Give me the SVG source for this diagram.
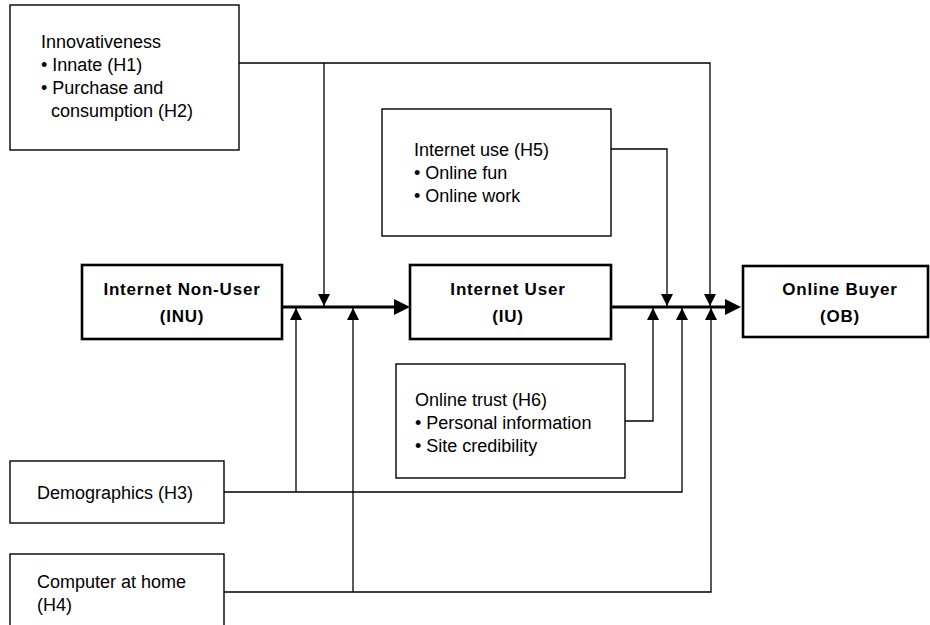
<svg xmlns="http://www.w3.org/2000/svg" width="930" height="625" viewBox="0 0 930 625">
<style>
  .thin { fill: #fff; stroke: #000; stroke-width: 1.4; }
  .thick { fill: #fff; stroke: #000; stroke-width: 2.6; }
  .txt { font-family: "Liberation Sans", Arial, sans-serif; font-size: 18px; fill: #000; }
  .bold { font-family: "Liberation Sans", Arial, sans-serif; font-size: 17px; font-weight: bold; letter-spacing: 0.8px; fill: #000; text-anchor: middle; }
  .conn { fill: none; stroke: #000; stroke-width: 1.3; }
  .main { fill: none; stroke: #000; stroke-width: 3; }
</style>
<defs>
  <marker id="small" markerUnits="userSpaceOnUse" markerWidth="13" markerHeight="13" refX="12" refY="6" orient="auto">
    <path d="M0,0 L12,6 L0,12 z" fill="#000"/>
  </marker>
  <marker id="big" markerUnits="userSpaceOnUse" markerWidth="17" markerHeight="17" refX="8" refY="8" orient="auto">
    <path d="M0,0 L16,8 L0,16 z" fill="#000"/>
  </marker>
</defs>
<rect width="930" height="625" fill="#fff"/>

<g id="connectors">
  <line class="main" x1="282" y1="307" x2="402" y2="307" marker-end="url(#big)"/>
  <line class="main" x1="611" y1="307" x2="733" y2="307" marker-end="url(#big)"/>
  <polyline class="conn" points="239,63 710,63 710,306" marker-end="url(#small)"/>
  <polyline class="conn" points="324,63 324,306" marker-end="url(#small)"/>
  <polyline class="conn" points="611,149 667,149 667,306" marker-end="url(#small)"/>
  <polyline class="conn" points="625,421 653,421 653,308" marker-end="url(#small)"/>
  <polyline class="conn" points="224,492 682,492 682,308" marker-end="url(#small)"/>
  <polyline class="conn" points="296,492 296,308" marker-end="url(#small)"/>
  <polyline class="conn" points="224,592 711,592 711,308" marker-end="url(#small)"/>
  <polyline class="conn" points="353,592 353,308" marker-end="url(#small)"/>
</g>

<g id="innovativeness">
  <rect class="thin" x="10" y="5" width="229" height="145"/>
  <text class="txt" x="41" y="48">Innovativeness</text>
  <text class="txt" x="41" y="71">• Innate (H1)</text>
  <text class="txt" x="41" y="94">• Purchase and</text>
  <text class="txt" x="51" y="117">consumption (H2)</text>
</g>

<g id="internet-use">
  <rect class="thin" x="382" y="109" width="229" height="127"/>
  <text class="txt" x="414" y="156">Internet use (H5)</text>
  <text class="txt" x="414" y="179">• Online fun</text>
  <text class="txt" x="414" y="202">• Online work</text>
</g>

<g id="inu">
  <rect class="thick" x="82" y="265" width="200" height="74"/>
  <text class="bold" x="182" y="295">Internet Non-User</text>
  <text class="bold" x="182" y="322">(INU)</text>
</g>

<g id="iu">
  <rect class="thick" x="410" y="265" width="201" height="74"/>
  <text class="bold" x="508" y="295">Internet User</text>
  <text class="bold" x="508" y="322">(IU)</text>
</g>

<g id="ob">
  <rect class="thick" x="743" y="266" width="185" height="71"/>
  <text class="bold" x="840" y="295">Online Buyer</text>
  <text class="bold" x="840" y="322">(OB)</text>
</g>

<g id="online-trust">
  <rect class="thin" x="396" y="364" width="229" height="114"/>
  <text class="txt" x="415" y="406">Online trust (H6)</text>
  <text class="txt" x="415" y="429">• Personal information</text>
  <text class="txt" x="415" y="452">• Site credibility</text>
</g>

<g id="demographics">
  <rect class="thin" x="10" y="461" width="214" height="62"/>
  <text class="txt" x="37" y="499">Demographics (H3)</text>
</g>

<g id="computer">
  <rect class="thin" x="10" y="554" width="214" height="80"/>
  <text class="txt" x="37" y="588">Computer at home</text>
  <text class="txt" x="37" y="611">(H4)</text>
</g>
</svg>
